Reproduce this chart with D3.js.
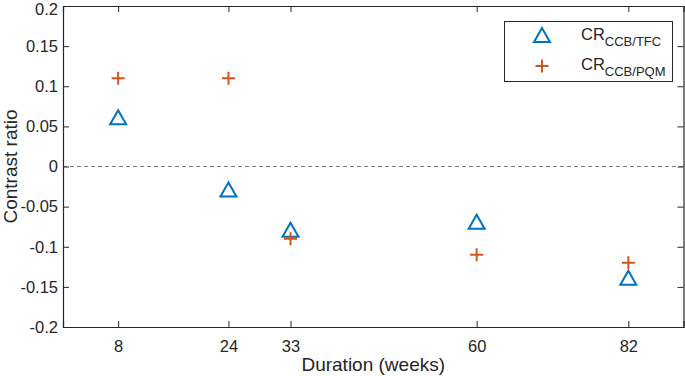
<!DOCTYPE html>
<html><head><meta charset="utf-8">
<script src="https://cdn.jsdelivr.net/npm/d3@7"></script>
<style>body{margin:0;background:#fff}svg{display:block}</style>
</head><body>
<svg id="c" width="685" height="376"></svg>
<script>
const weeks = [8, 24, 33, 60, 82];
const crTFC = [0.06, -0.03, -0.08, -0.07, -0.14];
const crPQM = [0.11, 0.11, -0.09, -0.11, -0.12];
const yTicks = [-0.2, -0.15, -0.1, -0.05, 0, 0.05, 0.1, 0.15, 0.2];
const yTickLabels = ["-0.2","-0.15","-0.1","-0.05","0","0.05","0.1","0.15","0.2"];
const seriesNames = ["CCB/TFC", "CCB/PQM"];

const W = 685, H = 376;
const m = {l: 63, r: 1.5, t: 6, b: 49};
const svg = d3.select("#c");
const font = "'Liberation Sans', Arial, sans-serif";
const x = d3.scaleLinear().domain([0, 90]).range([m.l, W - m.r]);
const y = d3.scaleLinear().domain([-0.2, 0.2]).range([H - m.b, m.t]);
const axisColor = "#262626";

// zero line
svg.append("line").attr("x1", x(0)).attr("x2", x(90)).attr("y1", y(0)).attr("y2", y(0))
  .attr("stroke", "#808080").attr("stroke-width", 1).attr("stroke-dasharray", "4,3");

// axes
const ax = svg.append("g").attr("transform", `translate(0,${y(-0.2)})`)
  .call(d3.axisBottom(x).tickValues(weeks).tickSize(-6).tickPadding(13).tickFormat(d3.format("d")));
const ay = svg.append("g").attr("transform", `translate(${x(0)},0)`)
  .call(d3.axisLeft(y).tickValues(yTicks).tickSize(-6).tickPadding(5).tickFormat((d,i) => yTickLabels[i]));
const axT = svg.append("g").attr("transform", `translate(0,${y(0.2)})`)
  .call(d3.axisTop(x).tickValues(weeks).tickSize(-6).tickFormat(""));
const ayR = svg.append("g").attr("transform", `translate(${x(90)},0)`)
  .call(d3.axisRight(y).tickValues(yTicks).tickSize(-6).tickFormat(""));
[ax, ay, axT, ayR].forEach(g => {
  g.selectAll(".domain").attr("stroke", axisColor).attr("stroke-width", 1.2);
  g.selectAll(".tick line").attr("stroke", axisColor);
  g.selectAll("text").attr("font-family", font).attr("font-size", 16.5).attr("fill", axisColor);
});
ay.selectAll(".tick text").filter(d => d === 0.2).attr("dy", "0.52em");

// axis labels
svg.append("text").attr("x", (x(0) + x(90)) / 2).attr("y", 371).attr("text-anchor", "middle")
  .attr("font-family", font).attr("font-size", 19).attr("fill", axisColor).text("Duration (weeks)");
svg.append("text").attr("transform", `translate(17,${y(0)}) rotate(-90)`).attr("text-anchor", "middle")
  .attr("font-family", font).attr("font-size", 19).attr("fill", axisColor).text("Contrast ratio");

const blue = "#0072BD", orange = "#D95319";
function triPath(cx, cy) {
  const s = 8;
  return `M${cx},${cy - s}L${cx + s},${cy + s * 0.75}L${cx - s},${cy + s * 0.75}Z`;
}
function plusPath(cx, cy) {
  const s = 6.5;
  return `M${cx - s},${cy}H${cx + s}M${cx},${cy - s}V${cy + s}`;
}
svg.append("g").selectAll("path").data(weeks).join("path")
  .attr("d", (d, i) => triPath(x(d), y(crTFC[i])))
  .attr("fill", "none").attr("stroke", blue).attr("stroke-width", 2);
svg.append("g").selectAll("path").data(weeks).join("path")
  .attr("d", (d, i) => plusPath(x(d), y(crPQM[i])))
  .attr("fill", "none").attr("stroke", orange).attr("stroke-width", 2);

// legend
const lg = svg.append("g");
lg.append("rect").attr("x", 504.5).attr("y", 21.5).attr("width", 168).attr("height", 60)
  .attr("fill", "#fff").attr("stroke", axisColor).attr("stroke-width", 1);
const ly = [36, 66];
lg.append("path").attr("d", triPath(542, ly[0])).attr("fill", "none").attr("stroke", blue).attr("stroke-width", 2);
lg.append("path").attr("d", plusPath(542, ly[1])).attr("fill", "none").attr("stroke", orange).attr("stroke-width", 2);
seriesNames.forEach((n, i) => {
  const t = lg.append("text").attr("x", 581).attr("y", ly[i] + 4).attr("font-family", font)
    .attr("font-size", 16.5).attr("fill", axisColor);
  t.append("tspan").text("CR");
  t.append("tspan").attr("dy", 6).attr("font-size", 13).text(n);
});
</script>
</body></html>
